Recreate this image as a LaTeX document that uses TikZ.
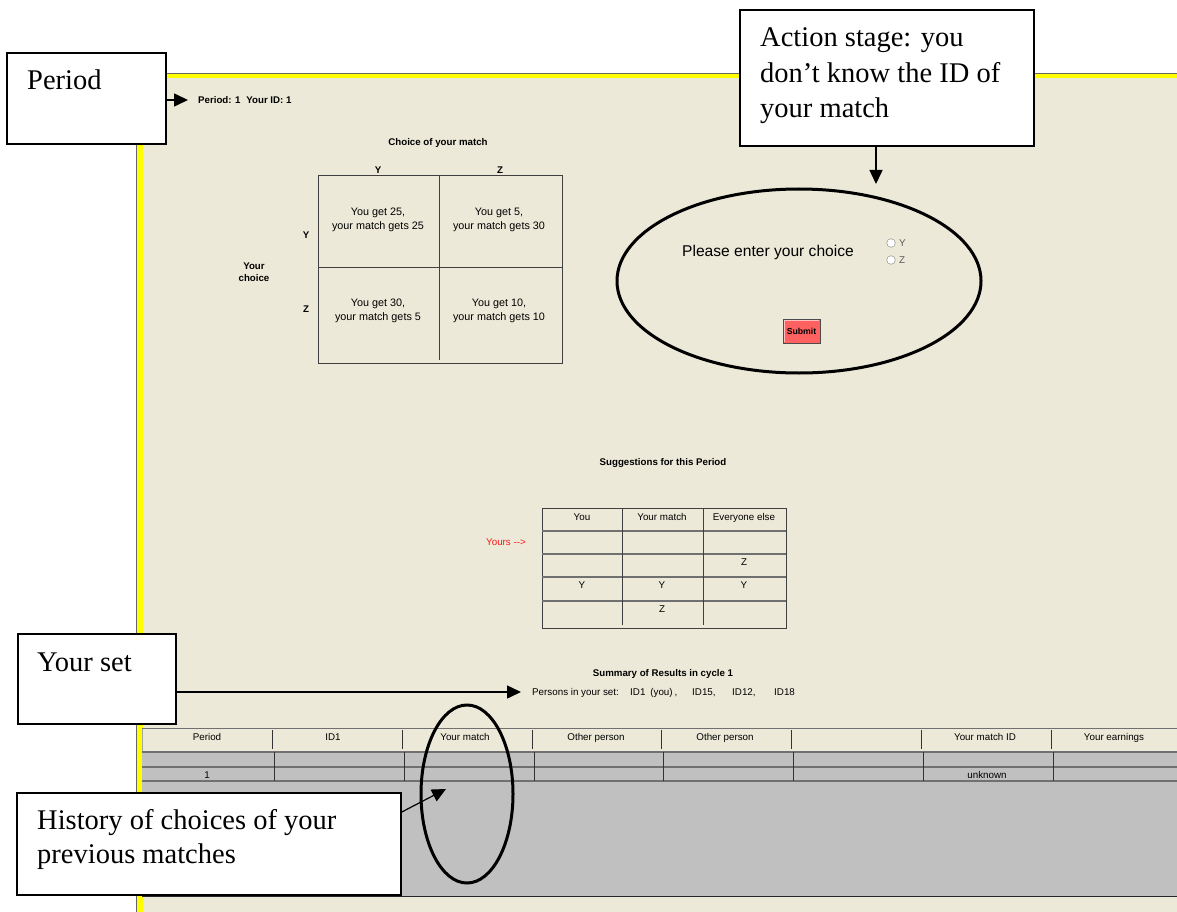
\documentclass[tikz,border=0pt]{standalone}
\usepackage{fontspec}
\setmainfont{Liberation Serif}
\setsansfont{Liberation Sans}
\usetikzlibrary{arrows.meta,shapes.geometric}
\definecolor{panelbg}{HTML}{ECE9D8}
\definecolor{tablegrey}{HTML}{C0C0C0}
\definecolor{borderyellow}{HTML}{FFFF00}
\definecolor{btnred}{HTML}{FF6060}
\definecolor{linegrey}{HTML}{707070}
\tikzset{
  labelbox/.style={draw, line width=1.5pt, fill=white, inner sep=0pt, rectangle},
  lbltext/.style={font=\fontsize{28.5}{34}\selectfont, anchor=base west, inner sep=0pt},
  ui/.style={font=\sffamily\fontsize{9.8}{11}\selectfont, inner sep=0pt, text height=8pt, text depth=1pt},
  uib/.style={font=\sffamily\bfseries\fontsize{9.7}{12.5}\selectfont, inner sep=0pt, text height=8pt, text depth=1pt},
  uibm/.style={font=\sffamily\bfseries\fontsize{9.7}{12.5}\selectfont, inner sep=0pt, align=center},
  cell/.style={font=\sffamily\fontsize{10.8}{14}\selectfont, inner sep=0pt, align=center},
  arr/.style={line width=1.5pt, -{Triangle[length=14pt,width=13pt]}},
  ring/.style={draw, ellipse, line width=3pt, inner sep=0pt},
  gridline/.style={line width=1pt, black!75},
  rowline/.style={line width=1.3pt, linegrey},
}
\begin{document}
\begin{tikzpicture}[x=1pt,y=-1pt]
\useasboundingbox (0,0) rectangle (1177,912);
\fill[white] (0,0) rectangle (1177,912);
% screenshot panel
\fill[panelbg] (136,73) rectangle (1177,912);
\fill[borderyellow] (137,74) rectangle (1177,78);
\fill[borderyellow] (137,74) rectangle (142.5,912);
\draw[line width=1pt, black!60] (136.5,912) -- (136.5,73.5) -- (1177,73.5);

% period line
\node[uib, anchor=west] (ptext) at (198,100) {Period: 1\hspace{0.6em}Your ID: 1};

% payoff matrix
\node[uib] (mtitle) at (438,142) {Choice of your match};
\node[uib] (colY) at (378,170) {Y};
\node[uib] (colZ) at (500,170) {Z};
\node[uib] (rowY) at (306,235) {Y};
\node[uib] (rowZ) at (306,309) {Z};
\node[uibm] (yourchoice) at (254,272) {Your\\choice};
\draw[gridline] (318,176) rectangle (562,363);
\draw[gridline] (439,176) -- (439,360);
\draw[gridline] (318,267) -- (562,267);
\node[cell] (c11) at (378,220) {You get 25,\\your match gets 25};
\node[cell] (c12) at (499,220) {You get 5,\\your match gets 30};
\node[cell] (c21) at (378,311) {You get 30,\\your match gets 5};
\node[cell] (c22) at (499,311) {You get 10,\\your match gets 10};

% choice entry
\node[ring, minimum width=364pt, minimum height=184pt] (ell) at (799,281) {};
\node[font=\sffamily\fontsize{15.6}{18}\selectfont, inner sep=0pt] (please) at (768,252) {Please enter your choice};
\draw[black!50, fill=white] (891,243) circle (4.3);
\draw[black!50, fill=white] (891,260) circle (4.3);
\node[ui, anchor=west, text=black!65] (radY) at (899,243) {Y};
\node[ui, anchor=west, text=black!65] (radZ) at (899,260) {Z};
\node[draw=black!70, line width=1pt, fill=btnred, minimum width=37pt, minimum height=24pt, inner sep=0pt,
      font=\sffamily\bfseries\fontsize{8.7}{10}\selectfont] (submit) at (801.5,331) {Submit};
\draw[btnred!40!white, line width=1pt] (784,342) -- (784,320) -- (819,320);

% suggestions
\node[uib] (stitle) at (663,462) {Suggestions for this Period};
\draw[gridline] (542,508) rectangle (786,628);
\foreach \yy in {531,554,577,601} \draw[rowline] (542,\yy) -- (786,\yy);
\draw[gridline] (622,508) -- (622,625);
\draw[gridline] (703,508) -- (703,625);
\node[ui] (hYou) at (582,517) {You};
\node[ui] (hMatch) at (662,517) {Your match};
\node[ui] (hElse) at (744,517) {Everyone else};
\node[ui, text=red!90] (yours) at (506,542) {Yours -{}->};
\node[ui] (s23) at (744,562) {Z};
\node[ui] (s31) at (582,585) {Y};
\node[ui] (s32) at (662,585) {Y};
\node[ui] (s33) at (744,585) {Y};
\node[ui] (s42) at (662,609) {Z};

% summary
\node[uib] (sumtitle) at (663,673) {Summary of Results in cycle 1};
\node[ui, anchor=west] (persons) at (532,692) {Persons in your set:};
\node[ui, anchor=west] (id1) at (630,692) {ID1\hspace{0.5em}(you)\hspace{0.2em},};
\node[ui, anchor=west] (id15) at (692,692) {ID15,};
\node[ui, anchor=west] (id12) at (732,692) {ID12,};
\node[ui, anchor=west] (id18) at (774,692) {ID18};

% history table
\fill[tablegrey] (142,752) rectangle (1177,896);
\draw[rowline] (142,728.5) -- (1177,728.5);
\draw[line width=0.8pt, black!35] (142.5,728.5) -- (142.5,752);
\foreach \xx in {272,402,532,661,791,921,1051} \draw[line width=1pt, black!80] (\xx,730) -- (\xx,749);
\draw[rowline] (142,752) -- (1177,752);
\draw[rowline] (142,767) -- (1177,767);
\draw[rowline] (142,781) -- (1177,781);
\foreach \xx in {274,404,534,663,793,923,1053} \draw[line width=1pt, black!80] (\xx,752) -- (\xx,781);
\draw[line width=1pt, black!85] (142,896) -- (1177,896);
\node[ui] (tPeriod) at (207,737) {Period};
\node[ui] (tID1) at (333,737) {ID1};
\node[ui] (tMatch) at (465,737) {Your match};
\node[ui] (tOther1) at (596,737) {Other person};
\node[ui] (tOther2) at (725,737) {Other person};
\node[ui] (tMatchID) at (985,737) {Your match ID};
\node[ui] (tEarn) at (1114,737) {Your earnings};
\node[ui] (r1) at (207,775) {1};
\node[ui] (runk) at (987,775) {unknown};

% annotations
\node[ring, minimum width=92pt, minimum height=178pt] (hring) at (467,794) {};

\node[labelbox, minimum width=159pt, minimum height=91pt] (pbox) at (86.5,98.5) {};
\node[lbltext] (pboxtxt) at (27,90) {Period};
\draw[arr] (pbox.east |- ptext.west) -- ([xshift=-10pt]ptext.west);

\node[labelbox, minimum width=294pt, minimum height=136pt] (abox) at (887,78) {};
\node[lbltext] (atxt1) at (760,47) {Action stage: you};
\node[lbltext] (atxt2) at (760,83) {don’t know the ID of};
\node[lbltext] (atxt3) at (760,118) {your match};
\coordinate (atip) at (876,184);
\draw[arr] (abox.south -| atip) -- (atip);

\node[labelbox, minimum width=158pt, minimum height=90pt] (sbox) at (97,679) {};
\node[lbltext] (stxt) at (37,671) {Your set};
\draw[arr] (sbox.east |- persons.west) -- ([xshift=-11pt]persons.west);

\node[labelbox, minimum width=384pt, minimum height=102pt] (hbox) at (209,844) {};
\node[lbltext] (htxt1) at (37,829) {History of choices of your};
\node[lbltext] (htxt2) at (37,863) {previous matches};
\coordinate (htip) at (446,789);
\draw[arr, line width=1.2pt] ([yshift=32pt]hbox.east) -- (htip);
\end{tikzpicture}
\end{document}
